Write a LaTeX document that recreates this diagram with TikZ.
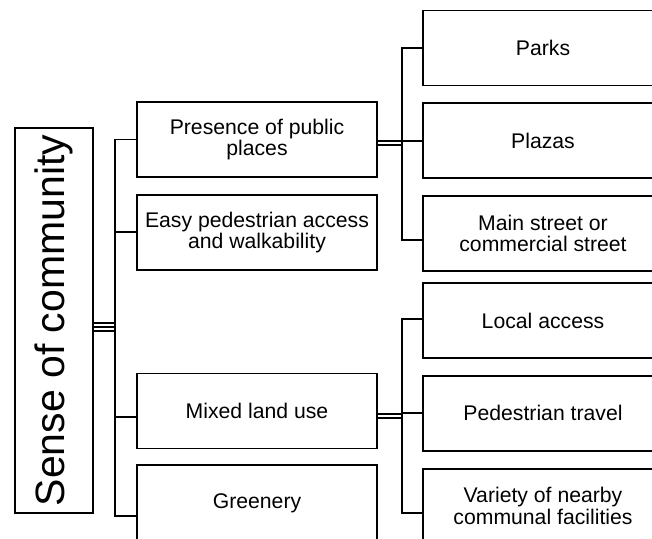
\documentclass[tikz,border=0pt]{standalone}
\usepackage{fontspec}
\setmainfont{Liberation Sans}
\usetikzlibrary{positioning}

\tikzset{
	box/.style={draw,rectangle,line width=1.8pt,minimum width=240pt,minimum height=75pt,align=center,inner sep=2pt,font=\fontsize{21.2}{21.5}\selectfont},
	link/.style={line width=1.8pt},
	twin/.style={line width=1.8pt,double,double distance=2.5pt},
	triple/.style={line width=1.8pt,double,double distance=6.5pt}
}

\begin{document}
\begin{tikzpicture}[x=1pt,y=1pt,node distance=16pt]
		\useasboundingbox (0,0) rectangle (652,-538);

		\node [draw,line width=1.8pt,rotate=90,minimum width=385pt,minimum height=78pt,font=\fontsize{41}{41}\selectfont] (root) at (54,-320.5) {Sense of community};

		\node [box] (presence) at (257,-139.5) {Presence of public\\places};
		\node [box,below=of presence] (easy) {Easy pedestrian access\\and walkability};
		\node [box] (mixed) at (257,-411) {Mixed land use};
		\node [box,below=15pt of mixed] (greenery) {Greenery};

		\node [box] (parks) at (543,-48) {Parks};
		\node [box,below=of parks] (plazas) {Plazas};
		\node [box,below=of plazas] (street) {Main street or\\commercial street};
		\node [box] (local) at (543,-320.5) {Local access};
		\node [box,below=of local] (travel) {Pedestrian travel};
		\node [box,below=of travel] (variety) {Variety of nearby\\communal facilities};

		\coordinate (hub) at (115,-327);
		\coordinate (upper) at (402,-143);
		\coordinate (lower) at (402,-416);

		% root to first level
		\draw [triple] (root.south |- hub) -- (hub);
		\draw [link] (root.south |- hub) -- (hub);
		\draw [link] (presence.west) -| (hub) |- ([yshift=-13.5pt]greenery.west);
		\draw [link] (easy.west) -- (easy.west -| hub);
		\draw [link] ([yshift=-6pt]mixed.west) -- ([yshift=-6pt]mixed.west -| hub);

		% first level to second level
		\draw [twin] (presence.east |- upper) -- (upper);
		\draw [link] (parks.west) -| (upper) |- ([yshift=-6.5pt]street.west);
		\draw [link] (plazas.west) -- (plazas.west -| upper);

		\draw [twin] (mixed.east |- lower) -- (lower);
		\draw [link] ([yshift=1.5pt]local.west) -| (lower) |- ([yshift=-6.5pt]variety.west);
		\draw [link] (travel.west) -- (travel.west -| lower);
	\end{tikzpicture}
\end{document}
